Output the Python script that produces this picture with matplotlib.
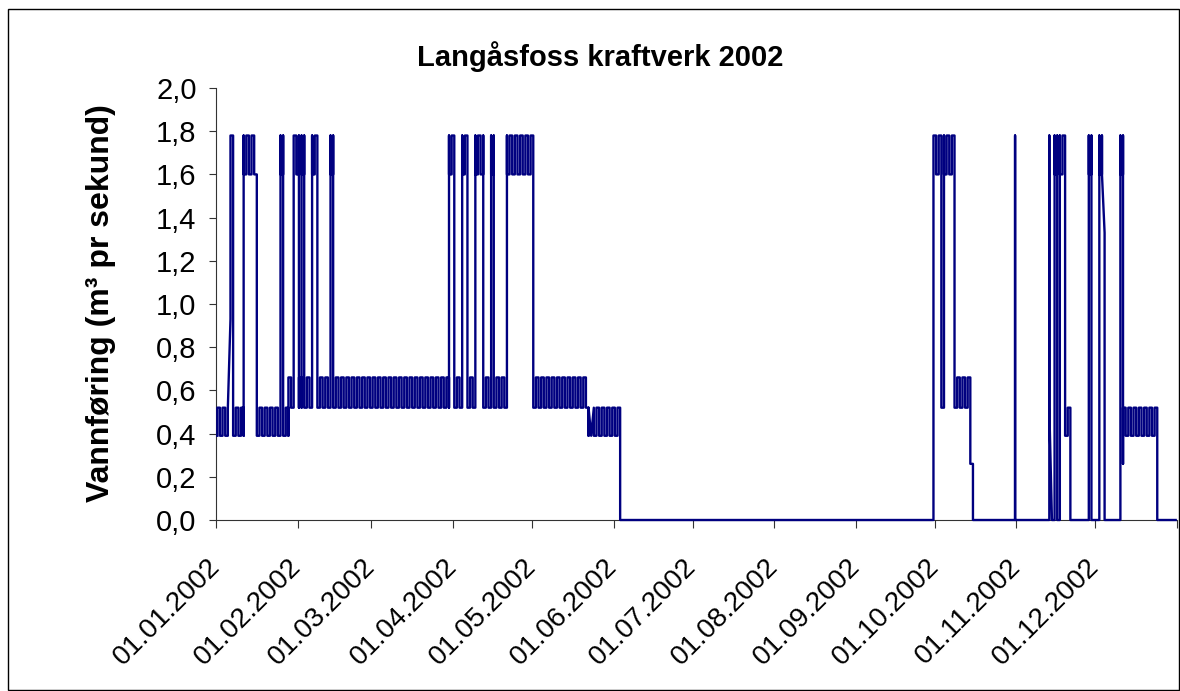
import numpy as np
import matplotlib
matplotlib.use("Agg")
import matplotlib.pyplot as plt
from matplotlib.patches import Rectangle
from matplotlib.transforms import ScaledTranslation

plt.rcParams["font.family"] = ["Liberation Sans", "DejaVu Sans"]

title = "Langåsfoss kraftverk 2002"
y_label = "Vannføring (m³ pr sekund)"

# flow levels (m3/s) used by the day codes below
levels = {"0": 0.0, "a": 0.26, "b": 0.39, "c": 0.52, "d": 0.66,
          "g": 0.93, "h": 1.33, "e": 1.60, "f": 1.78}

# one token per day = the values logged that day, in order ("0*27" = 27 days at 0)
jan = ("bc cb bc cb bc gfef fefb bc cb bc cbfe ef fe ef fe ecb bc cb bc cb bc cb "
       "bc cb bfe efb bc cbd dc cdf fe")
feb = ("efcd dcfe efdc cd dc cfe ef fedc cd dc cd dc cfe efc cd dc cd dc cd dc cd "
       "dc cd dc cd dc cd dc")
mar = ("cd dc cd dc cd dc cd dc cd dc cd dc cd dc cd dc cd dc cd dc cd dc cd dc cd "
       "dc cd dc cd dcfe ef")
apr = ("fedc cd dc cfe ef fedc cd dc cfe ef fe efdc cd dc cfe efc cd dc cd dc cdfe "
       "ef fe ef fe ef fe ef fe ef")
may = ("fedc cd dc cd dc cd dc cd dc cd dc cd dc cd dc cd dc cd dc cd dc cbc b cb "
       "bc cb bc cb bc cb bc")
jun = "cb bc cb0 0*27"
jul = "0*31"
aug = "0*31"
sep = "0*29 0fef"
okt = "fe ef fdc cdfe ef fe ef fedc cd dc cd dc cd dcba a0 0*15 0fef0"
nov = "0*12 0fefc 0 0fe efe0 0fe ef fecb bc cb0 0*6 0fe efcb0 0"
des = "0 0fe efe h0 0*5 0fe efac cb bc cb bc cb bc cb bc cb bc cb bc cb0 0*7"

x_labels = ["01.01.2002", "01.02.2002", "01.03.2002", "01.04.2002", "01.05.2002",
            "01.06.2002", "01.07.2002", "01.08.2002", "01.09.2002", "01.10.2002",
            "01.11.2002", "01.12.2002", ""]
y_ticks = [0.0, 0.2, 0.4, 0.6, 0.8, 1.0, 1.2, 1.4, 1.6, 1.8, 2.0]
y_tick_labels = ["0,0", "0,2", "0,4", "0,6", "0,8", "1,0", "1,2", "1,4", "1,6", "1,8", "2,0"]

# expand day tokens
days = []
for month in [jan, feb, mar, apr, may, jun, jul, aug, sep, okt, nov, des]:
    for tok in month.split():
        if "*" in tok:
            val, n = tok.split("*")
            days += [val] * int(n)
        else:
            days.append(tok)
assert len(days) == 365, len(days)

start = np.datetime64("2002-01-01T00:00")
xs = []
ys = []
for i, tok in enumerate(days):
    t = start + np.timedelta64(i * 24 + 12, "h")  # Excel puts a day's points mid-day
    for ch in tok:
        xs.append(t)
        ys.append(levels[ch])

month_starts = np.arange("2002-01", "2003-02", dtype="datetime64[M]").astype("datetime64[m]")

W, H = 1180, 691
fig = plt.figure(figsize=(W / 100, H / 100), dpi=100)
ax = fig.add_axes([216 / W, (H - 520) / H, (1177 - 216) / W, (520 - 88) / H])

ax.plot(xs, ys, color="#000080", lw=1.7, zorder=3, clip_on=False)

ax.set_xlim(month_starts[0], month_starts[-1])
ax.set_ylim(0, 2.0)
ax.set_yticks(y_ticks)
ax.set_yticklabels(y_tick_labels, fontsize=21)
ax.set_xticks(month_starts)
ax.set_xticklabels(x_labels, fontsize=20, rotation=45, ha="right", va="center",
                   rotation_mode="anchor")
shift = ScaledTranslation(-7 / 100, 0, fig.dpi_scale_trans)
for lab in ax.get_xticklabels():
    lab.set_transform(lab.get_transform() + shift)
ax.tick_params(axis="y", length=5, width=0.8, pad=9, color="#333333")
ax.tick_params(axis="x", length=6, width=0.8, pad=25, color="#333333")
for s in ["top", "right"]:
    ax.spines[s].set_visible(False)
for s in ["left", "bottom"]:
    ax.spines[s].set_linewidth(0.8)
    ax.spines[s].set_color("#333333")

fig.text(600 / W, 1 - 57 / H, title, ha="center", va="center", fontsize=21,
         fontweight="bold")
fig.text(101 / W, 1 - 303 / H, y_label, rotation=90, ha="center", va="center",
         fontsize=23, fontweight="bold")

# chart border
fig.patches.append(Rectangle((7.5 / W, 1.5 / H), (1178.5 - 7.5) / W, (689.5 - 8.5) / H,
                             transform=fig.transFigure, fill=False, ec="black", lw=1))

fig.savefig("out.png", dpi=100)
